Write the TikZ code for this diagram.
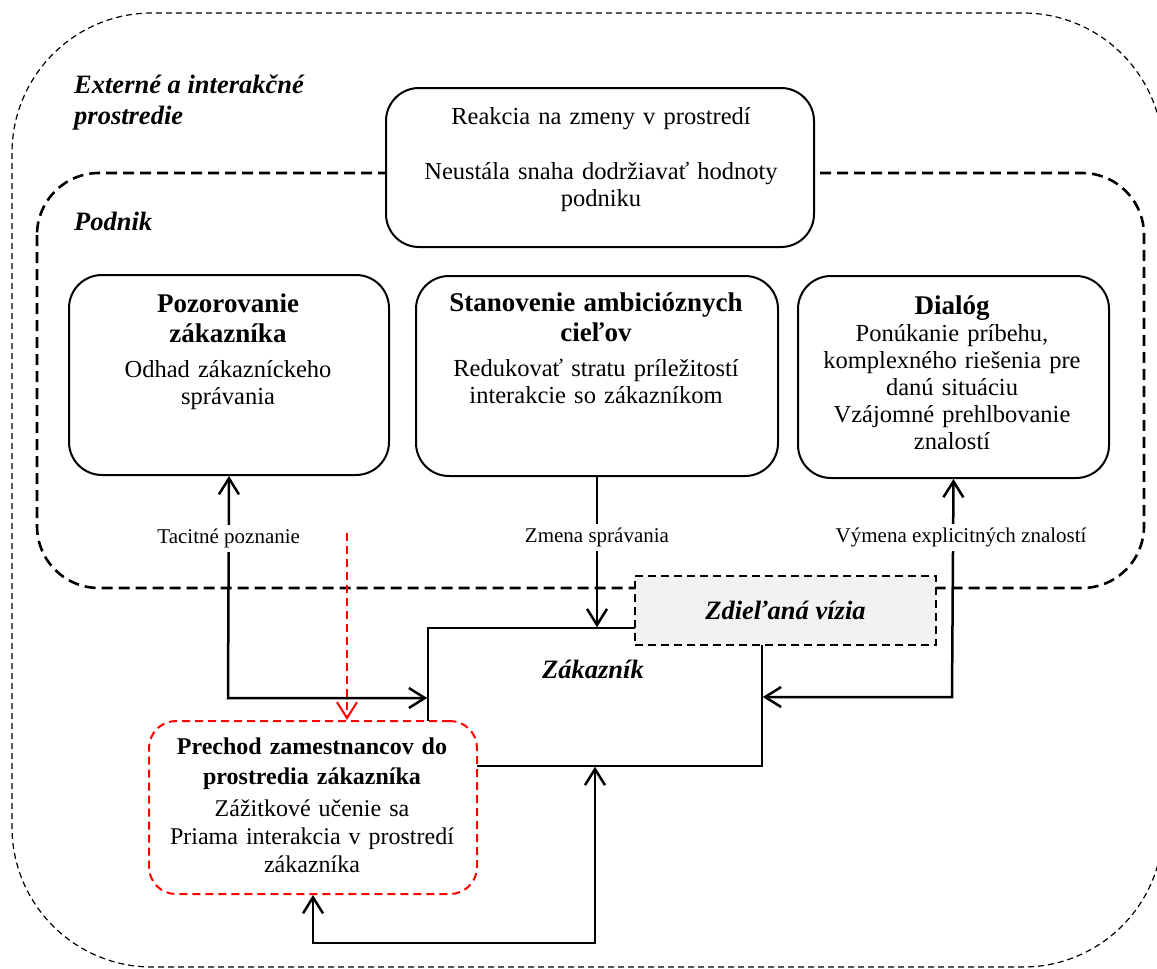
\documentclass[tikz,border=0pt]{standalone}
\usepackage{fontspec}
\setmainfont{Liberation Serif}
\usetikzlibrary{arrows.meta}
\newcommand{\boxtitle}[2][27]{{\fontsize{#1}{30}\selectfont\bfseries #2\par}}
\tikzset{
	frame_out/.style = {dash pattern=on 6pt off 4pt, line width=1.2pt},% vonkajsie prostredie
	frame_in/.style = {dash pattern=on 11pt off 6pt, line width=2.6pt},% podnik
	heading/.style = {font=\fontsize{26.5}{31}\selectfont\bfseries\itshape,
		align=left, inner sep=0pt},
	box/.style = {draw, rounded corners=33pt, line width=2pt, fill=white,
		inner sep=0pt, anchor=north west},
	boxtext/.style = {align=center, anchor=north, inner sep=0pt,
		font=\fontsize{24.5}{27}\selectfont},
	red_box/.style = {box, draw=red, rounded corners=27pt, line width=2pt,
		dash pattern=on 8pt off 5pt},% prechod zamestnancov
	zak_box/.style = {draw, line width=1.5pt, inner sep=0pt},% zakaznik
	vizia/.style = {draw, fill=gray!10, line width=2pt, dash pattern=on 8pt off 5pt,
		inner sep=0pt, font=\fontsize{26.5}{31}\selectfont\bfseries\itshape},
	lbl/.style = {fill=white, inner sep=4pt, font=\fontsize{21}{24}\selectfont},
	conn/.style = {line width=2.5pt},
	conn_red/.style = {red, line width=2pt, dash pattern=on 8pt off 5pt}
}
\begin{document}
\begin{tikzpicture}[x=1pt, y=-1pt, >={Straight Barb[length=16pt,width=20pt]}]
	\useasboundingbox (0,0) rectangle (1157,969);
	\clip (0,0) rectangle (1157,969);
	% ramce
	\draw[frame_out, rounded corners=140pt] (12,13) rectangle (1163,967);
	\draw[frame_in, rounded corners=62pt] (37,173) rectangle (1144,588);
	\node[heading, anchor=north west] (ext) at (74,75) {Externé a interakčné\\prostredie};
	\node[heading, anchor=base west] (podnik) at (74,230) {Podnik};
	% boxy podniku
	\node[box, minimum width=428pt, minimum height=159pt] (reakcia) at (385,87) {};
	\node[boxtext, text width=420pt] (reakcia_t) at (601,107)
		{Reakcia na zmeny v prostredí\\[28pt] Neustála snaha dodržiavať hodnoty\\ podniku};
	\node[box, minimum width=320pt, minimum height=200pt] (poz) at (68,274) {};
	\node[boxtext, text width=310pt] (poz_t) at (228,293.5)
		{\boxtitle{Pozorovanie\\ zákazníka}\vspace{8pt}Odhad zákazníckeho\\ správania};
	\node[box, minimum width=362pt, minimum height=200pt] (stan) at (415,275) {};
	\node[boxtext, text width=355pt] (stan_t) at (596,293)
		{\boxtitle{Stanovenie ambicióznych\\ cieľov}\vspace{8pt}Redukovať stratu príležitostí\\ interakcie so zákazníkom};
	\node[box, minimum width=311pt, minimum height=202pt] (dial) at (797,275) {};
	\node[boxtext, text width=305pt] (dial_t) at (952,296)
		{\boxtitle{Dialóg}Ponúkanie príbehu,\\ komplexného riešenia pre\\ danú situáciu\\ Vzájomné prehlbovanie\\ znalostí};
	% zakaznik
	\node[zak_box, minimum width=334pt, minimum height=138pt] (zak) at (595,697) {};
	\node[heading, anchor=base] (zak_t) at (593,678) {Zákazník};
	\node[vizia, minimum width=301pt, minimum height=69pt] (viz) at (785.5,610.5) {Zdieľaná vízia};
	\node[red_box, minimum width=328pt, minimum height=173pt] (red) at (148,720) {};
	\node[boxtext, text width=320pt, font=\fontsize{24}{28}\selectfont] (red_t) at (312,738)
		{\boxtitle[24]{Prechod zamestnancov do\\ prostredia zákazníka}\vspace{4pt}Zážitkové učenie sa\\ Priama interakcia v prostredí\\ zákazníka};
	% spojenia
	\coordinate (tac_c) at (228,698);
	\coordinate (vym_c) at (952,697);
	\coordinate (red_s) at (347,533);
	\draw[conn, <->] (poz.south) -- node[lbl, pos=0.28] {Tacitné poznanie} (tac_c) -- (tac_c -| zak.west);
	\draw[conn, ->] (stan.south) -- node[lbl, pos=0.405] {Zmena správania} (stan.south |- zak.north);
	\draw[conn, <->] (dial.south) -- node[lbl, pos=0.27, xshift=8pt] {Výmena explicitných znalostí} (vym_c) -- (vym_c -| zak.east);
	\draw[conn, <->] (red.south) -- ++(0,48) -| (zak.south);
	\draw[conn_red, ->] (red_s) -- (red_s |- red.north);
\end{tikzpicture}
\end{document}
